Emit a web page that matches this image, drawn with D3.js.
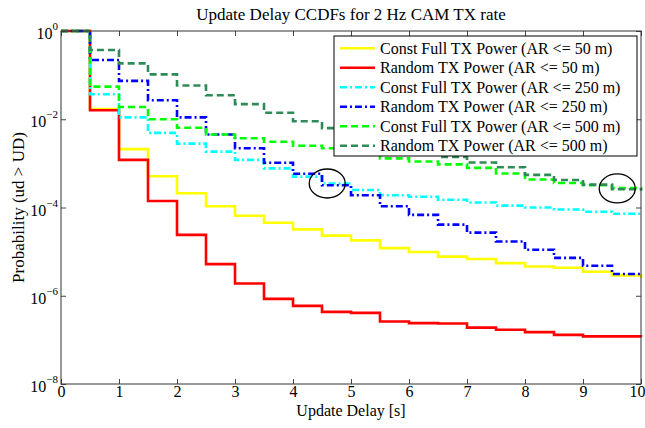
<!DOCTYPE html>
<html>
<head>
<meta charset="utf-8">
<script src="https://cdn.jsdelivr.net/npm/d3@7"></script>
<style>
  body { margin: 0; background: #fff; }
  svg text { font-family: "Liberation Serif", "DejaVu Serif", serif !important; fill: #000; }
</style>
</head>
<body>
<div id="chart"></div>
<script>
// update delay steps [s]
const delays = [0, 0.5, 1, 1.5, 2, 2.5, 3, 3.5, 4, 4.5, 5, 5.5, 6, 6.5, 7, 7.5, 8, 8.5, 9, 9.5, 10];

// P(ud > UD)
const constFull50 = [1, 0.017, 2.1e-3, 5.1e-4, 2.1e-4, 1.07e-4, 6.5e-5, 4.5e-5, 3.2e-5, 2.3e-5, 1.8e-5, 1.2e-5, 9.8e-6, 7.7e-6, 6.8e-6, 5.5e-6, 4.6e-6, 4.3e-6, 3.5e-6, 2.9e-6, 2.5e-6];
const random50 = [1, 0.016, 1.2e-3, 1.4e-4, 2.4e-5, 5.2e-6, 1.9e-6, 8.5e-7, 5.9e-7, 4.3e-7, 4.1e-7, 2.6e-7, 2.4e-7, 2.35e-7, 1.9e-7, 1.7e-7, 1.5e-7, 1.3e-7, 1.2e-7, 1.2e-7, 1.15e-7];
const constFull250 = [1, 0.037, 0.011, 4.9e-3, 2.8e-3, 1.85e-3, 1.2e-3, 7.7e-4, 5e-4, 3.5e-4, 2.5e-4, 1.9e-4, 1.75e-4, 1.5e-4, 1.3e-4, 1.1e-4, 1e-4, 9e-5, 8e-5, 7.2e-5, 7e-5];
const random250 = [1, 0.22, 0.074, 0.027, 0.011, 4.5e-3, 2.2e-3, 1.03e-3, 5.8e-4, 3.2e-4, 1.9e-4, 1.07e-4, 6.8e-5, 4.1e-5, 2.7e-5, 1.7e-5, 1.1e-5, 7.2e-6, 4.8e-6, 3.1e-6, 2.9e-6];
const constFull500 = [1, 0.055, 0.019, 0.01, 6.4e-3, 4.5e-3, 3.7e-3, 3.1e-3, 2.5e-3, 2.2e-3, 1.7e-3, 1.3e-3, 1.1e-3, 9.5e-4, 7.9e-4, 5.9e-4, 4.3e-4, 3.6e-4, 3.2e-4, 2.75e-4, 2.5e-4];
const random500 = [1, 0.37, 0.185, 0.104, 0.058, 0.035, 0.022, 0.014, 9e-3, 6.3e-3, 4.5e-3, 3e-3, 2e-3, 1.4e-3, 1.05e-3, 8.2e-4, 5.5e-4, 4.2e-4, 3.3e-4, 2.6e-4, 2.4e-4];

const seriesNames = [
  'Const Full TX Power (AR <= 50 m)',
  'Random TX Power (AR <= 50 m)',
  'Const Full TX Power (AR <= 250 m)',
  'Random TX Power (AR <= 250 m)',
  'Const Full TX Power (AR <= 500 m)',
  'Random TX Power (AR <= 500 m)'
];
const seriesValues = [constFull50, random50, constFull250, random250, constFull500, random500];

const xTicks = [0, 1, 2, 3, 4, 5, 6, 7, 8, 9, 10];
const yTickExps = [0, -2, -4, -6, -8];

// circled spots (x in s, y as probability)
const circledX = [4.59, 9.59];
const circledP = [3.5e-4, 2.7e-4];

const styles = [
  { color: '#ffff00', dash: null },
  { color: '#ff0000', dash: null },
  { color: '#00ffff', dash: '7,3,2,3' },
  { color: '#0000ff', dash: '7,3,2,3' },
  { color: '#00ff00', dash: '7,4' },
  { color: '#2e8b57', dash: '7,4' }
];

const serif = '"Liberation Serif", "DejaVu Serif", serif';

const width = 645;
const height = 428;
const margin = { top: 31, right: 4, bottom: 44, left: 61 };
const graphWidth = width - margin.left - margin.right;
const graphHeight = height - margin.top - margin.bottom;

const root = d3.select('#chart')
  .append('svg')
  .attr('width', width)
  .attr('height', height)
  .attr('font-family', serif);

const svg = root.append('g')
  .attr('transform', 'translate(' + margin.left + ',' + margin.top + ')');

const xScale = d3.scaleLinear().domain([0, 10]).range([0, graphWidth]);
const yScale = d3.scaleLog().domain([1e-8, 1]).range([graphHeight, 0]);

svg.append('clipPath').attr('id', 'clip')
  .append('rect')
  .attr('x', -2).attr('y', -2)
  .attr('width', graphWidth + 4).attr('height', graphHeight + 4);

// LINES
const line = d3.line()
  .x(d => xScale(d.t))
  .y(d => yScale(d.p))
  .curve(d3.curveStepAfter);

const lines = svg.append('g').attr('clip-path', 'url(#clip)');

seriesValues.forEach((vals, i) => {
  const data = delays.map((t, j) => ({ t: t, p: vals[j] }));
  lines.append('path')
    .datum(data)
    .attr('fill', 'none')
    .attr('stroke', styles[i].color)
    .attr('stroke-width', 2.6)
    .attr('stroke-dasharray', styles[i].dash)
    .attr('d', line);
});

// AXES
const tickColor = '#444';

svg.append('g')
  .attr('transform', 'translate(0,' + graphHeight + ')')
  .call(d3.axisBottom(xScale).tickValues(xTicks).tickSize(-5).tickPadding(2).tickFormat(d3.format('d')))
  .call(g => g.select('.domain').remove())
  .call(g => g.selectAll('line').attr('stroke', tickColor))
  .call(g => g.attr('font-family', serif).attr('font-size', 16))
  .call(g => g.selectAll('text').filter(d => d === 10).attr('text-anchor', 'end').attr('x', 4));

svg.append('g')
  .call(d3.axisTop(xScale).tickValues(xTicks).tickSize(-5).tickFormat(''))
  .call(g => g.select('.domain').remove())
  .call(g => g.selectAll('line').attr('stroke', tickColor));

const yTickValues = yTickExps.map(e => Math.pow(10, e));

svg.append('g')
  .call(d3.axisLeft(yScale).tickValues(yTickValues).tickSize(-5).tickFormat(''))
  .call(g => g.select('.domain').remove())
  .call(g => g.selectAll('line').attr('stroke', tickColor));

svg.append('g')
  .attr('transform', 'translate(' + graphWidth + ',0)')
  .call(d3.axisRight(yScale).tickValues(yTickValues).tickSize(-5).tickFormat(''))
  .call(g => g.select('.domain').remove())
  .call(g => g.selectAll('line').attr('stroke', tickColor));

// y tick labels as 10^e
yTickExps.forEach(e => {
  const t = svg.append('text')
    .attr('x', -3)
    .attr('y', yScale(Math.pow(10, e)) + 8)
    .attr('text-anchor', 'end')
    .attr('font-size', 16);
  t.append('tspan').text('10');
  t.append('tspan')
    .attr('font-size', 11)
    .attr('dy', -9)
    .text(e === 0 ? '0' : '\u2212' + Math.abs(e));
});

// BOX
svg.append('rect')
  .attr('width', graphWidth)
  .attr('height', graphHeight)
  .attr('fill', 'none')
  .attr('stroke', '#333')
  .attr('stroke-width', 1);

// CIRCLED SPOTS
circledX.forEach((cx, i) => {
  svg.append('ellipse')
    .attr('cx', xScale(cx))
    .attr('cy', yScale(circledP[i]))
    .attr('rx', 18)
    .attr('ry', 14.5)
    .attr('fill', 'none')
    .attr('stroke', '#000')
    .attr('stroke-width', 1.3);
});

// TITLE + LABELS
root.append('text')
  .attr('x', margin.left + graphWidth / 2)
  .attr('y', 20)
  .attr('text-anchor', 'middle')
  .attr('font-size', 17)
  .text('Update Delay CCDFs for 2 Hz CAM TX rate');

root.append('text')
  .attr('x', margin.left + graphWidth / 2)
  .attr('y', 416)
  .attr('text-anchor', 'middle')
  .attr('font-size', 16)
  .text('Update Delay [s]');

root.append('text')
  .attr('transform', 'translate(24,' + (margin.top + graphHeight / 2) + ') rotate(-90)')
  .attr('text-anchor', 'middle')
  .attr('font-size', 17)
  .text('Probability (ud > UD)');

// LEGEND
const legend = root.append('g').attr('transform', 'translate(334,36)');

legend.append('rect')
  .attr('width', 303)
  .attr('height', 120)
  .attr('fill', '#fff')
  .attr('stroke', '#000')
  .attr('stroke-width', 1);

seriesNames.forEach((name, i) => {
  const yy = 12.3 + i * 19.5;
  legend.append('line')
    .attr('x1', 6).attr('x2', 41)
    .attr('y1', yy).attr('y2', yy)
    .attr('stroke', styles[i].color)
    .attr('stroke-width', 2.6)
    .attr('stroke-dasharray', styles[i].dash);
  legend.append('text')
    .attr('x', 46)
    .attr('y', yy)
    .attr('dy', '0.35em')
    .attr('font-size', 16)
    .text(name);
});
</script>
</body>
</html>
